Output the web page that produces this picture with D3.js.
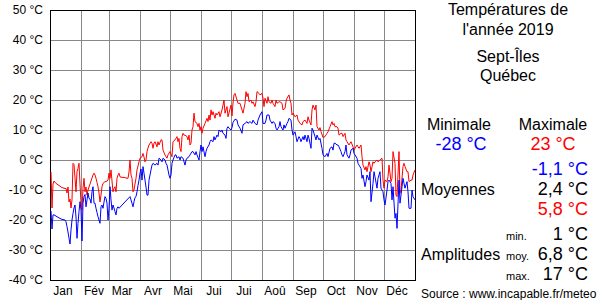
<!DOCTYPE html>
<html>
<head>
<meta charset="utf-8">
<script src="https://cdn.jsdelivr.net/npm/d3@7"></script>
<style>
  body { margin: 0; background: #fff; }
  svg { font-family: "Liberation Sans", Arial, sans-serif; }
</style>
</head>
<body>
<div id="chart"></div>
<script>
// daily values: [day index from Jan 1, °C]
var tmax = [
  [0,-4],[1,-16],[2,-8],[3,-7],[5,-7.8],[8,-8.5],[11,-9.2],[14,-9.5],[15,-9.5],[16,-11],[17,-9],[18,-14],[19,-13],[20,-16],
  [21,-13.3],[22,-1.1],[23,-1.5],[24,-6],[25,-10.6],[26,-3.9],[27,-2.8],[28,-1.1],[29,-8],[30,-14.4],[31,-16.7],[32,-9.4],
  [33,-6.1],[34,-10.6],[35,-9],[36,-11.7],[37,-10],[38,-9],[39,-8],[40,-7],[41,-6],[42,-5],[43,-4.4],[44,-5],[45,-6.1],
  [46,-7.5],[47,-8.9],[48,-11],[49,-14],[50,-11.7],[51,-8.9],[52,-7.8],[53,-7.5],[54,-7.2],[55,-7.2],[56,-7],[57,-6.7],
  [58,-4.4],[59,-6.1],[60,-3.3],[61,-7],[62,-10.6],[63,-9.5],[64,-8.9],[65,-10.6],[66,-6.1],[67,-5],[68,-4.4],[69,-5.6],
  [71,-5.8],[73,-5.8],[75,-6],[77,-6.1],[78,-4],[79,0],[80,-5],[81,-6.1],[82,-10.6],[83,-10],[84,-8],[85,-6.1],[86,-3.3],
  [87,-2],[88,-0.6],[89,0.6],[91,1.1],[92,2.2],[93,1],[94,-0.6],[95,0],[96,2.8],[97,4],[98,5],[100,6.1],[101,5.6],
  [102,3.9],[103,5.6],[104,6.1],[106,4.4],[107,6.1],[108,5],[110,6.7],[111,6.7],[112,3.3],[114,1.7],[115,1.1],[116,0.6],
  [117,1.7],[119,2.8],[121,1.1],[122,6.1],[124,6.7],[126,7.8],[127,6.1],[128,7.2],[129,3.9],[130,2.8],[131,7.8],[132,8.9],
  [133,8.3],[134,8.3],[136,7.8],[137,6.7],[138,8.3],[139,5],[140,5.6],[141,10],[142,11.1],[143,15.6],[144,12.8],[146,12.2],
  [147,11.1],[148,12.2],[149,10],[150,11.1],[151,8.9],[152,10.6],[154,12.2],[156,13.9],[157,12.8],[158,15],[159,13.3],
  [160,16.7],[161,15],[162,16.1],[164,13.9],[165,15.6],[166,15],[168,16.1],[169,14.4],[171,16.7],[172,18.3],[173,20],
  [174,15.6],[176,17.8],[177,14.4],[179,17],[180,18.3],[181,14.7],[182,19],[183,21.7],[184,22.2],[186,20],[187,18.9],
  [189,18.9],[191,16.7],[192,15.6],[194,18.9],[195,22.8],[196,21.1],[197,22.2],[198,19.4],[200,20],[201,18.9],[202,19.4],
  [204,17.8],[205,19.4],[206,22.8],[208,22.2],[209,21.7],[211,22.2],[212,20.6],[213,17.8],[214,20.6],[216,18.9],[217,21.1],
  [218,19.4],[220,18.9],[221,20],[222,18.9],[224,17.8],[225,20],[226,18.9],[228,19.4],[229,19.4],[231,18.9],[232,16.7],
  [234,17.2],[235,19.4],[236,20.6],[238,21.7],[239,20],[240,18.9],[241,15],[242,15.6],[244,14.4],[246,15],[247,13.3],
  [249,12.2],[251,11.7],[252,12.8],[254,13.3],[256,12.2],[257,14.4],[258,13.3],[260,11.7],[261,16.7],[262,18.3],[264,16.7],
  [265,18.3],[266,11.1],[268,10],[269,10.8],[270,9.5],[272,7.5],[274,7.8],[276,8.9],[277,9.4],[279,11.1],[281,12.8],
  [282,11.7],[283,12.2],[284,11.1],[286,11.1],[287,10.6],[288,8.3],[290,8.9],[291,8.9],[292,7.8],[294,8.9],[295,6.7],
  [296,6.1],[298,5],[299,5.6],[300,6.1],[302,4.4],[303,3.3],[304,3.9],[306,5],[307,4.4],[308,3.9],[310,5],[311,1.1],
  [312,-1.7],[314,-3.3],[315,-2.2],[316,-3.9],[318,-0.6],[319,-1.7],[320,-3.9],[322,-0.6],[323,-1.1],[324,-0.6],[326,0],
  [327,-0.6],[329,0],[331,0.6],[332,-6.7],[333,-9.4],[334,-6.7],[336,-7.2],[337,-5.6],[338,-1.7],[340,-7.2],[341,-6.1],
  [342,2.8],[344,-1.1],[345,-11.7],[346,-12.2],[348,2.8],[349,-11.1],[350,-10],[352,-2.2],[353,-1.1],[354,-2.2],[356,-3.9],
  [357,-3.9],[358,-7.2],[360,-6.7],[361,-6.7],[362,-5],[364,-3.3]
];

var tmin = [
  [0,-17],[1,-23],[2,-18.3],[3,-18.3],[5,-18.7],[8,-19.3],[11,-19.8],[14,-20],[15,-20.6],[16,-22.2],[17,-24],[18,-26.1],
  [19,-28],[20,-23.3],[21,-20],[22,-17.8],[23,-16],[24,-15],[25,-19],[26,-26.1],[27,-21.1],[28,-17.2],[29,-13.9],[30,-16.7],
  [31,-27],[32,-14.4],[33,-12.2],[34,-11.5],[35,-15.6],[36,-13.3],[37,-11],[38,-12.8],[39,-13],[40,-14.4],[41,-10.6],
  [42,-8.9],[43,-14.4],[44,-14.4],[45,-16.1],[46,-17.5],[47,-18.9],[48,-20],[49,-21.1],[50,-15.6],[51,-15],[52,-16.1],
  [53,-14],[54,-12.2],[55,-12.8],[56,-14.4],[57,-20],[58,-16.1],[59,-8.9],[60,-13.3],[61,-16.7],[62,-15],[63,-16],
  [64,-17.2],[65,-18.3],[66,-16.1],[67,-15.6],[68,-16.1],[79,-12.2],[80,-13.3],[81,-14.4],[82,-15.6],[83,-13.9],[84,-12.5],
  [85,-12.2],[86,-10.6],[87,-8.5],[88,-6.7],[89,-4.4],[90,-3],[91,-6.7],[92,-2.2],[93,-4.4],[94,-6.7],[95,-9],[96,-11.7],
  [97,-11.7],[98,-6.7],[100,-3.3],[101,-1.7],[102,-1.1],[104,-1.7],[106,-1.1],[107,-1.7],[108,0.6],[110,0],[111,-0.6],
  [112,0.6],[114,0],[115,-1.1],[116,-1.7],[118,-5],[119,-6.1],[120,-5],[121,-1.1],[122,0],[124,1.7],[125,1.7],[126,0.6],
  [128,1.1],[129,0],[130,1.1],[132,0.6],[133,-0.6],[134,-1.7],[135,0],[136,0.6],[138,1.1],[139,1.7],[141,2.8],[142,2.8],
  [144,1.7],[145,2.8],[146,1.7],[148,0],[149,2.8],[150,5],[151,2.8],[152,4.4],[154,1.1],[155,2.8],[156,3.9],[158,5],
  [159,6.1],[160,6.7],[162,6.1],[163,7.8],[164,6.7],[166,8.3],[167,7.8],[168,10],[170,9.4],[171,10],[172,8.9],[174,8.3],
  [175,7.2],[176,10.6],[177,11.1],[178,10.6],[180,10],[181,10.8],[182,12.5],[184,13.6],[186,13.3],[187,11.7],[189,10.6],
  [191,8.9],[192,11.7],[194,12.2],[196,12.8],[197,12.2],[199,12.8],[201,12.2],[202,13.3],[204,12.2],[206,11.7],[207,13.3],
  [209,15],[211,16.1],[212,12.2],[214,12.2],[215,13.3],[216,15],[218,15],[219,13.3],[221,12.2],[222,12.8],[224,12.2],
  [225,10.6],[226,10],[228,11.1],[229,12.8],[230,11.1],[232,10],[233,11.7],[234,10.6],[236,12.2],[237,12.8],[238,13.9],
  [240,13.3],[241,10],[242,8.3],[244,9.4],[245,7.8],[246,6.1],[248,7.8],[249,7.2],[250,6.1],[252,7.8],[253,6.7],[254,8.3],
  [256,6.1],[257,8.3],[258,7.2],[260,3.9],[261,10.6],[262,10],[264,7.8],[265,6.7],[266,8.3],[268,6.7],[269,7.2],[271,3.9],
  [272,1.7],[274,1.1],[276,2.2],[277,1.1],[279,3.9],[281,4.4],[282,3.3],[283,5.6],[284,5.6],[286,5],[287,5],[288,4.4],
  [290,2.8],[291,1.7],[292,1.1],[294,2.8],[295,5],[296,1.7],[298,0.6],[299,1.7],[300,3.3],[302,3.9],[303,2.2],[304,1.7],
  [306,0.6],[307,-1.1],[308,-1.7],[310,-2.8],[311,-6.1],[312,-5],[314,-8.9],[315,-7.2],[316,-5],[318,-6.7],[319,-3.9],
  [320,-13.9],[322,-7.8],[323,-3.9],[324,-5.6],[326,-9.4],[327,-6.1],[329,-3.9],[330,-9.4],[332,-10.6],[333,-13.3],
  [334,-15],[336,-10],[337,-7.2],[338,-6.7],[340,-7.8],[341,-13.3],[342,-8.9],[344,-19.4],[345,-17.8],[346,-22.8],
  [348,-6.7],[349,-14.4],[350,-11.7],[352,-6.1],[353,-7.8],[354,-9.4],[356,-7.2],[357,-10.6],[358,-16.1],[360,-16.1],
  [361,-10],[362,-12.2],[364,-13.3]
];

var months = ["Jan", "Fév", "Mar", "Avr", "Mai", "Jui", "Jui", "Aoû", "Sep", "Oct", "Nov", "Déc"];
var monthStarts = [0, 31, 59, 90, 120, 151, 181, 212, 243, 273, 304, 334, 365];
var yTicks = [50, 40, 30, 20, 10, 0, -10, -20, -30, -40];

// summary block on the right
var titleLines = ["Températures de", "l'année 2019", "Sept-Îles", "Québec"];
var extremes = { min: "-28 °C", max: "23 °C" };
var means = ["-1,1 °C", "2,4 °C", "5,8 °C"];
var amplitudes = [["min.", "1 °C"], ["moy.", "6,8 °C"], ["max.", "17 °C"]];

var width = 600;
var height = 300;
var margin = { top: 10, right: 185, bottom: 20, left: 50 };

var svg = d3.select("#chart").append("svg")
  .attr("width", width)
  .attr("height", height);

var x = d3.scaleLinear()
  .domain([0, 365])
  .range([margin.left, width - margin.right]);

var y = d3.scaleLinear()
  .domain([-40, 50])
  .range([height - margin.bottom, margin.top]);

/*************    GRID   *************/
var grid = svg.append("g")
  .attr("stroke", "#888")
  .attr("shape-rendering", "crispEdges");

grid.selectAll("line.h")
  .data(yTicks.slice(1, -1))
  .join("line")
  .attr("class", "h")
  .attr("x1", x(0)).attr("x2", x(365))
  .attr("y1", (d) => y(d) + 0.5).attr("y2", (d) => y(d) + 0.5);

grid.selectAll("line.v")
  .data(monthStarts.slice(1, -1))
  .join("line")
  .attr("class", "v")
  .attr("x1", (d) => x(d) + 0.5).attr("x2", (d) => x(d) + 0.5)
  .attr("y1", y(50)).attr("y2", y(-40));

// frame
svg.append("rect")
  .attr("x", x(0) + 0.5)
  .attr("y", y(50) + 0.5)
  .attr("width", x(365) - x(0))
  .attr("height", y(-40) - y(50))
  .attr("fill", "none")
  .attr("stroke", "#000")
  .attr("shape-rendering", "crispEdges");

/*************    AXES   *************/
function yAxis(g) {
  g.attr("transform", `translate(${margin.left - 7}, 0)`)
    .call(d3.axisLeft(y).tickValues(yTicks).tickSize(0).tickPadding(0).tickFormat((d) => d + " °C"))
    .call((g) => g.select(".domain").remove())
    .call((g) => g.selectAll("text").attr("font-size", 12).attr("fill", "#000"));
}

svg.append("g").attr("class", "yAxis").call(yAxis);
svg.select(".yAxis").attr("font-family", null);

svg.append("g")
  .selectAll("text")
  .data(months)
  .join("text")
  .attr("x", (d, i) => x(monthStarts[i] + 13))
  .attr("y", 295)
  .attr("text-anchor", "middle")
  .attr("font-size", 12)
  .text((d) => d);

/*************    LINES   *************/
var line = d3.line()
  .x((d) => x(d[0] + 1))
  .y((d) => y(d[1]));

svg.append("path")
  .datum(tmax)
  .attr("fill", "none")
  .attr("stroke", "#ff0000")
  .attr("stroke-width", 1)
  .attr("d", line);

svg.append("path")
  .datum(tmin)
  .attr("fill", "none")
  .attr("stroke", "#0000ff")
  .attr("stroke-width", 1)
  .attr("d", line);

/*************    SUMMARY   *************/
var side = svg.append("g").attr("fill", "#000");

side.selectAll("text.title")
  .data(titleLines)
  .join("text")
  .attr("class", "title")
  .attr("x", 508)
  .attr("y", (d, i) => [15, 35, 62, 81][i])
  .attr("text-anchor", "middle")
  .attr("font-size", 16)
  .text((d) => d);

side.append("text").attr("x", 459).attr("y", 130).attr("text-anchor", "middle")
  .attr("font-size", 16).text("Minimale");
side.append("text").attr("x", 553).attr("y", 130).attr("text-anchor", "middle")
  .attr("font-size", 16).text("Maximale");
side.append("text").attr("x", 461).attr("y", 150).attr("text-anchor", "middle")
  .attr("font-size", 18).attr("fill", "#0000ff").text(extremes.min);
side.append("text").attr("x", 553).attr("y", 150).attr("text-anchor", "middle")
  .attr("font-size", 18).attr("fill", "#ff0000").text(extremes.max);

side.append("text").attr("x", 421).attr("y", 195).attr("font-size", 16).text("Moyennes");
side.selectAll("text.mean")
  .data(means)
  .join("text")
  .attr("class", "mean")
  .attr("x", 588)
  .attr("y", (d, i) => 175 + i * 20)
  .attr("text-anchor", "end")
  .attr("font-size", 18)
  .attr("fill", (d, i) => ["#0000ff", "#000", "#ff0000"][i])
  .text((d) => d);

side.append("text").attr("x", 421).attr("y", 260).attr("font-size", 16).text("Amplitudes");
side.selectAll("text.amplab")
  .data(amplitudes)
  .join("text")
  .attr("class", "amplab")
  .attr("x", 506)
  .attr("y", (d, i) => 240 + i * 20)
  .attr("font-size", 11)
  .text((d) => d[0]);
side.selectAll("text.ampval")
  .data(amplitudes)
  .join("text")
  .attr("class", "ampval")
  .attr("x", 588)
  .attr("y", (d, i) => 240 + i * 20)
  .attr("text-anchor", "end")
  .attr("font-size", 18)
  .text((d) => d[1]);

side.append("text").attr("x", 421).attr("y", 298).attr("font-size", 12)
  .text("Source : www.incapable.fr/meteo");
</script>
</body>
</html>
